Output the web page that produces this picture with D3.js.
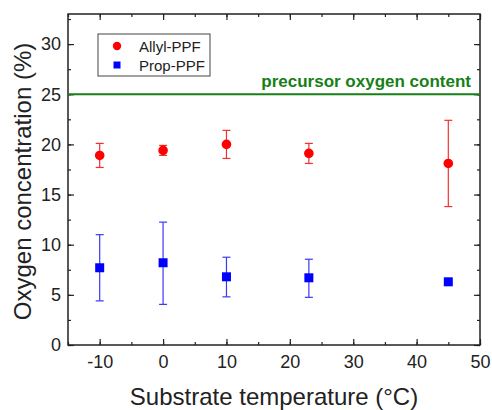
<!DOCTYPE html>
<html>
<head>
<meta charset="utf-8">
<script src="https://cdn.jsdelivr.net/npm/d3@7"></script>
<style>
  body { margin: 0; background: #fff; }
  text { font-family: Arial, "Liberation Sans", sans-serif; }
</style>
</head>
<body>
<div class="chart"></div>
<script>
const width = 492;
const height = 410;
const margin = { top: 14, right: 12, bottom: 65, left: 68 };

// data
const temps = [-10, 0, 10, 23, 45];
const allyl = [18.9, 19.4, 20.0, 19.1, 18.1];
const allylLo = [17.7, 18.9, 18.6, 18.1, 13.8];
const allylHi = [20.1, 19.9, 21.4, 20.1, 22.4];
const prop = [7.7, 8.2, 6.8, 6.7, 6.3];
const propLo = [4.4, 4.05, 4.8, 4.75, 6.3];
const propHi = [11.0, 12.25, 8.75, 8.55, 6.3];
const precursor = 25;
const xTicks = [-10, 0, 10, 20, 30, 40, 50];
const yTicks = [0, 5, 10, 15, 20, 25, 30];

const svg = d3.select('.chart').append('svg')
    .attr('width', width)
    .attr('height', height);

const x = d3.scaleLinear().domain([-15, 50]).range([margin.left, width - margin.right]);
const y = d3.scaleLinear().domain([0, 33]).range([height - margin.bottom, margin.top]);

const x0 = margin.left, x1 = width - margin.right;
const y0 = height - margin.bottom, y1 = margin.top;

/* axes: ticks point inward */
function styleAxis(g) {
    g.select('.domain').remove();
    g.selectAll('line').attr('stroke', '#222').attr('stroke-width', 1.2);
    g.selectAll('text').attr('font-size', 18).attr('fill', '#222');
}
const minorX = d3.range(-15, 50.1, 5);
const minorY = d3.range(0, 33, 2.5);

svg.append('g').attr('transform', `translate(0,${y0})`)
    .call(d3.axisBottom(x).tickValues(minorX).tickSize(-3).tickFormat(''))
    .call(styleAxis);
svg.append('g').attr('transform', `translate(0,${y0})`)
    .call(d3.axisBottom(x).tickValues(xTicks).tickSize(-6).tickPadding(10))
    .call(styleAxis)
    .selectAll('text').text(d => d < 0 ? '-' + Math.abs(d) : d);
svg.append('g').attr('transform', `translate(0,${y1})`)
    .call(d3.axisTop(x).tickValues(minorX).tickSize(-3).tickFormat(''))
    .call(styleAxis);
svg.append('g').attr('transform', `translate(0,${y1})`)
    .call(d3.axisTop(x).tickValues(xTicks).tickSize(-6).tickFormat(''))
    .call(styleAxis);

svg.append('g').attr('transform', `translate(${x0},0)`)
    .call(d3.axisLeft(y).tickValues(minorY).tickSize(-3).tickFormat(''))
    .call(styleAxis);
svg.append('g').attr('transform', `translate(${x0},0)`)
    .call(d3.axisLeft(y).tickValues(yTicks).tickSize(-6).tickPadding(7))
    .call(styleAxis);
svg.append('g').attr('transform', `translate(${x1},0)`)
    .call(d3.axisRight(y).tickValues(minorY).tickSize(-3).tickFormat(''))
    .call(styleAxis);
svg.append('g').attr('transform', `translate(${x1},0)`)
    .call(d3.axisRight(y).tickValues(yTicks).tickSize(-6).tickFormat(''))
    .call(styleAxis);

// frame
svg.append('rect')
    .attr('x', x0).attr('y', y1)
    .attr('width', x1 - x0).attr('height', y0 - y1)
    .attr('fill', 'none').attr('stroke', '#222').attr('stroke-width', 1.5);

/* precursor line */
svg.append('line')
    .attr('x1', x0).attr('x2', x1)
    .attr('y1', y(precursor)).attr('y2', y(precursor))
    .attr('stroke', '#168016').attr('stroke-width', 2);
svg.append('text')
    .attr('x', x1 - 9).attr('y', y(precursor) - 7)
    .attr('text-anchor', 'end')
    .attr('font-size', 17).attr('font-weight', 'bold')
    .attr('fill', '#168016')
    .text('precursor oxygen content');

/* error bars + markers */
function errBars(vals, lo, hi, color) {
    const g = svg.append('g').attr('stroke', color).attr('stroke-width', 1.2);
    temps.forEach((t, i) => {
        if (hi[i] - lo[i] < 0.01) return;
        const cx = x(t);
        g.append('line').attr('x1', cx).attr('x2', cx).attr('y1', y(lo[i])).attr('y2', y(hi[i]));
        g.append('line').attr('x1', cx - 4).attr('x2', cx + 4).attr('y1', y(lo[i])).attr('y2', y(lo[i]));
        g.append('line').attr('x1', cx - 4).attr('x2', cx + 4).attr('y1', y(hi[i])).attr('y2', y(hi[i]));
    });
}
errBars(allyl, allylLo, allylHi, '#f23030');
errBars(prop, propLo, propHi, '#3a3af5');

svg.append('g').selectAll('circle')
    .data(temps)
    .enter().append('circle')
    .attr('cx', d => x(d))
    .attr('cy', (d, i) => y(allyl[i]))
    .attr('r', 4.8)
    .attr('fill', '#ff0000');

svg.append('g').selectAll('rect')
    .data(temps)
    .enter().append('rect')
    .attr('x', d => x(d) - 4.5)
    .attr('y', (d, i) => y(prop[i]) - 4.5)
    .attr('width', 9).attr('height', 9)
    .attr('fill', '#0000ff');

/* legend */
const legend = svg.append('g');
legend.append('rect')
    .attr('x', 98).attr('y', 34).attr('width', 112).attr('height', 42)
    .attr('fill', '#fff').attr('stroke', '#444').attr('stroke-width', 1);
legend.append('circle').attr('cx', 117).attr('cy', 46).attr('r', 4.2).attr('fill', '#ff0000');
legend.append('rect').attr('x', 113.5).attr('y', 61.5).attr('width', 7).attr('height', 7).attr('fill', '#0000ff');
legend.append('text').attr('x', 139).attr('y', 51.5).attr('font-size', 15).attr('fill', '#222').text('Allyl-PPF');
legend.append('text').attr('x', 139).attr('y', 70.5).attr('font-size', 15).attr('fill', '#222').text('Prop-PPF');

/* axis titles */
svg.append('text')
    .attr('x', (x0 + x1) / 2).attr('y', 405)
    .attr('text-anchor', 'middle').attr('font-size', 24).attr('fill', '#222')
    .text('Substrate temperature (°C)');
svg.append('text')
    .attr('transform', `translate(31,${(y0 + y1) / 2 + 2}) rotate(-90)`)
    .attr('text-anchor', 'middle').attr('font-size', 24).attr('fill', '#222')
    .text('Oxygen concentration (%)');
</script>
</body>
</html>
